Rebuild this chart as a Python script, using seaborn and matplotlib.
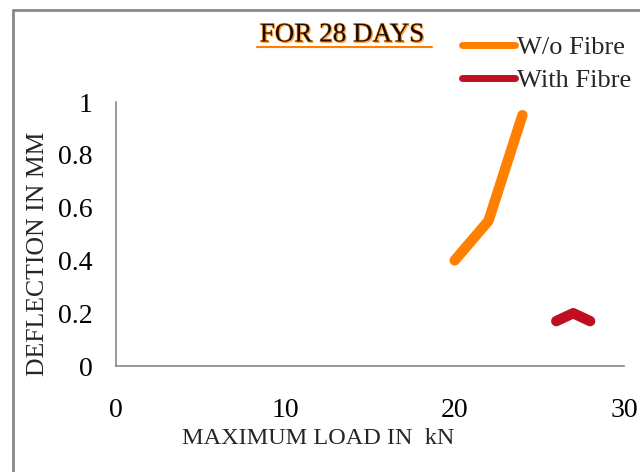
""" Load vs deflection for 28 days, with and without fibre """

import matplotlib
matplotlib.use("Agg")
import matplotlib.pyplot as plt
import matplotlib.patheffects as pe
from matplotlib.lines import Line2D
import pandas as pd
import seaborn as sns

# data
load_wo_fibre = [20, 22, 24]
defl_wo_fibre = [0.40, 0.55, 0.95]
load_with_fibre = [26, 27, 28]
defl_with_fibre = [0.17, 0.20, 0.17]
series_names = ["W/o Fibre", "With Fibre"]
series_colors = ["#FF8000", "#C00F23"]

df = pd.concat([
    pd.DataFrame({"load": load_wo_fibre, "defl": defl_wo_fibre, "series": series_names[0]}),
    pd.DataFrame({"load": load_with_fibre, "defl": defl_with_fibre, "series": series_names[1]}),
])

sns.set_style("white")
plt.rcParams["font.family"] = ["Liberation Serif", "DejaVu Serif"]

fig = plt.figure(figsize=(6.4, 4.72), dpi=100)
ax = fig.add_axes([116 / 640, 1 - 366 / 472, 508 / 640, 264 / 472])

sns.lineplot(data=df, x="load", y="defl", hue="series", palette=series_colors,
             sort=False, linewidth=7.5, ax=ax, legend=False,
             solid_capstyle="round", solid_joinstyle="round")

ax.set_xlim(0, 30)
ax.set_ylim(0, 1)
ax.set_xticks([0, 10, 20, 30])
ax.set_yticks([0, 0.2, 0.4, 0.6, 0.8, 1])
ax.set_yticklabels(["0", "0.2", "0.4", "0.6", "0.8", "1"])
ax.tick_params(axis="both", labelsize=20, colors="#888888", labelcolor="black",
               length=5, width=1.2, direction="out")
ax.tick_params(axis="x", pad=18)
ax.tick_params(axis="y", pad=12)
for side in ["top", "right"]:
    ax.spines[side].set_visible(False)
for side in ["left", "bottom"]:
    ax.spines[side].set_color("#888888")
    ax.spines[side].set_linewidth(1.2)

ax.set_xlabel("")
ax.set_ylabel("")
fig.text(318 / 640, 1 - 438 / 472, "MAXIMUM LOAD IN  kN", ha="center", va="center", fontsize=17.5)
fig.text(38 / 640, 1 - 254 / 472, "DEFLECTION IN MM", ha="center", va="center",
         rotation=90, fontsize=18.5)

# title with orange glow and underline
fig.text(342 / 640, 1 - 35 / 472, "FOR 28 DAYS", ha="center", va="center", fontsize=19.5,
         color="#1a0a00",
         path_effects=[pe.withSimplePatchShadow(offset=(1, -1), shadow_rgbFace="#FF9A30", alpha=0.9),
                       pe.withStroke(linewidth=1.0, foreground="#FF9A30")])
fig.add_artist(Line2D([257 / 640, 432 / 640], [1 - 47 / 472, 1 - 47 / 472],
                      color="#FF8000", linewidth=1.5))

# legend
handles = [Line2D([], [], color=c, linewidth=5, solid_capstyle="round") for c in series_colors]
fig.legend(handles, series_names, loc="upper left", bbox_to_anchor=(462 / 640, 1 - 36 / 472),
           frameon=False, fontsize=19, handlelength=2.0, handletextpad=0.1,
           labelspacing=0.36, borderpad=0, borderaxespad=0)

# chart area border (left and top edges visible)
fig.add_artist(Line2D([13 / 640, 13 / 640], [0, 1 - 10 / 472], color="#888888", linewidth=2))
fig.add_artist(Line2D([13 / 640, 1], [1 - 10 / 472, 1 - 10 / 472], color="#888888", linewidth=2))

fig.savefig("out.png", dpi=100)
